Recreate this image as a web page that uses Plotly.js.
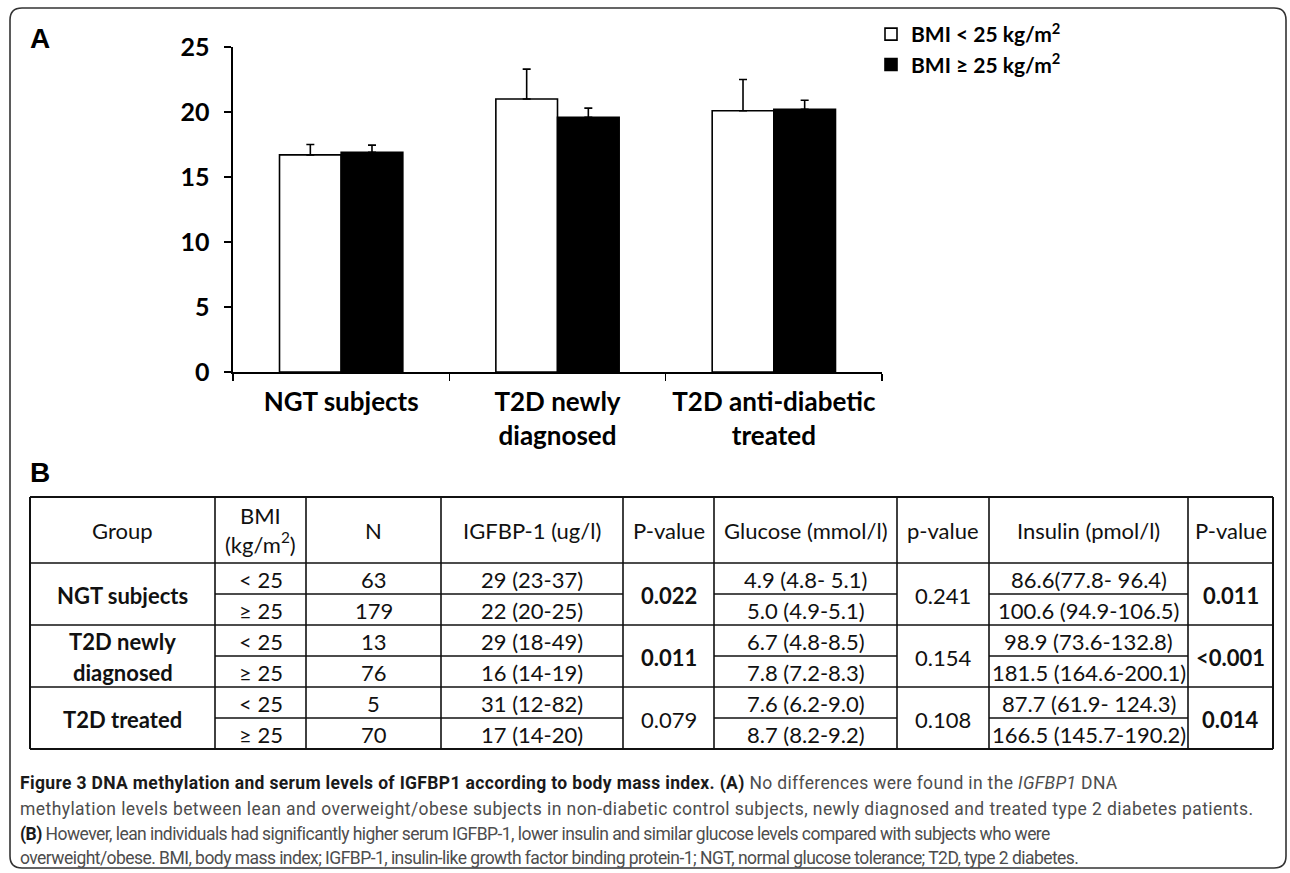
<!DOCTYPE html>
<html>
<head>
<meta charset="utf-8">
<script src="https://cdn.plot.ly/plotly-3.0.1.min.js"></script>
<style>html,body{margin:0;padding:0;background:#fff;}#chart{width:1290px;height:873px;}</style>
</head>
<body>
<div id="chart"></div>
<script>
// ---------- Panel A data ----------
const categories = ['NGT subjects', 'T2D newly<br>diagnosed', 'T2D anti-diabetic<br>treated'];
const leanMeans  = [16.7, 21.0, 20.1];
const leanErr    = [0.8, 2.3, 2.4];
const obeseMeans = [16.9, 19.6, 20.2];
const obeseErr   = [0.55, 0.7, 0.7];
const yTicks     = [0, 5, 10, 15, 20, 25];
const seriesNames = ['BMI &lt; 25 kg/m<sup>2</sup>', 'BMI ≥ 25 kg/m<sup>2</sup>'];

// ---------- Panel B table data ----------
const headers = ['Group', 'BMI<br>(kg/m<sup>2</sup>)', 'N', 'IGFBP-1 (ug/l)', 'P-value', 'Glucose (mmol/l)', 'p-value', 'Insulin (pmol/l)', 'P-value'];
const groups = [['NGT subjects'], ['T2D newly', 'diagnosed'], ['T2D treated']];
const bmiLabels = ['&lt; 25', '≥ 25'];
const nLean  = [63, 13, 5];
const nObese = [179, 76, 70];
const igfbpLean  = ['29 (23-37)', '29 (18-49)', '31 (12-82)'];
const igfbpObese = ['22 (20-25)', '16 (14-19)', '17 (14-20)'];
const igfbpP     = ['0.022', '0.011', '0.079'];
const igfbpPSig  = [true, true, false];
const glucoseLean  = ['4.9 (4.8- 5.1)', '6.7 (4.8-8.5)', '7.6 (6.2-9.0)'];
const glucoseObese = ['5.0 (4.9-5.1)', '7.8 (7.2-8.3)', '8.7 (8.2-9.2)'];
const glucoseP     = ['0.241', '0.154', '0.108'];
const glucosePSig  = [false, false, false];
const insulinLean  = ['86.6(77.8- 96.4)', '98.9 (73.6-132.8)', '87.7 (61.9- 124.3)'];
const insulinObese = ['100.6 (94.9-106.5)', '181.5 (164.6-200.1)', '166.5 (145.7-190.2)'];
const insulinP     = ['0.011', '&lt;0.001', '0.014'];
const insulinPSig  = [true, true, true];

const captionLines = [
  '<b>Figure 3 DNA methylation and serum levels of IGFBP1 according to body mass index. (A)</b> No differences were found in the <i>IGFBP1</i> DNA',
  'methylation levels between lean and overweight/obese subjects in non-diabetic control subjects, newly diagnosed and treated type 2 diabetes patients.',
  '<b>(B)</b> However, lean individuals had significantly higher serum IGFBP-1, lower insulin and similar glucose levels compared with subjects who were',
  'overweight/obese. BMI, body mass index; IGFBP-1, insulin-like growth factor binding protein-1; NGT, normal glucose tolerance; T2D, type 2 diabetes.'
];
const captionTracking = [0.34, 0.43, -0.55, -0.55];

// ---------- layout geometry (pixels) ----------
const W = 1290, H = 873;
const PL = 233, PR = 882, PT = 47, PB = 372;
const X = px => (px - PL) / (PR - PL);
const Y = py => (PB - py) / (PB - PT);

const FONT = 'Lato, "Open Sans", sans-serif';
const CAPFONT = 'Roboto, "Liberation Sans", sans-serif';

const colEdges = [30, 215, 306, 441, 623, 714, 897, 989, 1188, 1273];
const tableTop = 497, headerBottom = 563, subRow = 31;

const shapes = [];
const annotations = [];

function line(x0, y0, x1, y1, w) {
  shapes.push({type: 'line', xref: 'paper', yref: 'paper', x0: X(x0), y0: Y(y0), x1: X(x1), y1: Y(y1),
    line: {color: '#111', width: w}});
}
function text(px, py, t, opt) {
  opt = opt || {};
  annotations.push({xref: 'paper', yref: 'paper', x: X(px), y: Y(py), text: t, showarrow: false,
    xanchor: opt.xa || 'center', yanchor: opt.ya || 'middle', align: opt.align || 'center',
    font: {family: opt.family || FONT, size: opt.size || 22, color: opt.color || '#111', weight: opt.weight || 'normal'}});
}

// outer rounded frame
(function () {
  const x0 = 10, y0 = 8, x1 = 1286, y1 = 868, r = 12;
  const p = (a, b) => X(a) + ',' + Y(b);
  const path = 'M' + p(x0 + r, y0) + ' L' + p(x1 - r, y0) + ' Q' + p(x1, y0) + ' ' + p(x1, y0 + r) +
    ' L' + p(x1, y1 - r) + ' Q' + p(x1, y1) + ' ' + p(x1 - r, y1) +
    ' L' + p(x0 + r, y1) + ' Q' + p(x0, y1) + ' ' + p(x0, y1 - r) +
    ' L' + p(x0, y0 + r) + ' Q' + p(x0, y0) + ' ' + p(x0 + r, y0) + ' Z';
  shapes.push({type: 'path', xref: 'paper', yref: 'paper', path: path, line: {color: '#333', width: 1.6}});
})();

// panel letters
text(40, 38, '<b>A</b>', {family: '"Liberation Sans", Arial, sans-serif', size: 28, color: '#000'});
text(40, 472, '<b>B</b>', {family: '"Liberation Sans", Arial, sans-serif', size: 28, color: '#000'});

// ---------- table ----------
const tableBottom = headerBottom + subRow * 6;
const L = colEdges[0], R = colEdges[colEdges.length - 1];
line(L, tableTop, R, tableTop, 2);
line(L, headerBottom, R, headerBottom, 1.6);
for (let g = 1; g <= 3; g++) line(L, headerBottom + subRow * 2 * g, R, headerBottom + subRow * 2 * g, g === 3 ? 2 : 1.6);
colEdges.forEach((cx, i) => line(cx, tableTop, cx, tableBottom, (i === 0 || i === colEdges.length - 1) ? 2 : 1.6));
const splitCols = [1, 2, 3, 5, 7];
for (let g = 0; g < 3; g++) {
  const yy = headerBottom + subRow * (2 * g + 1);
  splitCols.forEach(c => line(colEdges[c], yy, colEdges[c + 1], yy, 1.6));
}
const colMid = c => (colEdges[c] + colEdges[c + 1]) / 2;
headers.forEach((h, c) => text(colMid(c), (tableTop + headerBottom) / 2, h));
for (let g = 0; g < 3; g++) {
  const yA = headerBottom + subRow * (2 * g) + subRow / 2 + 1;
  const yB = yA + subRow;
  const yM = headerBottom + subRow * (2 * g + 1) + 1;
  if (groups[g].length === 1) {
    text(colMid(0), yM, '<b>' + groups[g][0] + '</b>');
  } else {
    text(colMid(0), yA, '<b>' + groups[g][0] + '</b>');
    text(colMid(0), yB, '<b>' + groups[g][1] + '</b>');
  }
  text(colMid(1), yA, bmiLabels[0]); text(colMid(1), yB, bmiLabels[1]);
  text(colMid(2), yA, String(nLean[g])); text(colMid(2), yB, String(nObese[g]));
  text(colMid(3), yA, igfbpLean[g]); text(colMid(3), yB, igfbpObese[g]);
  text(colMid(4), yM, igfbpPSig[g] ? '<b>' + igfbpP[g] + '</b>' : igfbpP[g]);
  text(colMid(5), yA, glucoseLean[g]); text(colMid(5), yB, glucoseObese[g]);
  text(colMid(6), yM, glucosePSig[g] ? '<b>' + glucoseP[g] + '</b>' : glucoseP[g]);
  text(colMid(7), yA, insulinLean[g]); text(colMid(7), yB, insulinObese[g]);
  text(colMid(8), yM, insulinPSig[g] ? '<b>' + insulinP[g] + '</b>' : insulinP[g]);
}

// ---------- caption ----------
const capY = [784, 809, 834, 858];
captionLines.forEach((t, i) => {
  const styled = '<span style="letter-spacing:' + captionTracking[i] + 'px">' +
    t.replace(/<b>/g, '<span style="color:#1a1a1a"><b>').replace(/<\/b>/g, '</b></span>') + '</span>';
  text(18, capY[i], styled, {xa: 'left', align: 'left', family: CAPFONT, size: 17.5, color: '#4d4d4d'});
});

// ---------- bars ----------
const traces = [
  {type: 'bar', name: seriesNames[0], x: categories, y: leanMeans,
   marker: {color: '#ffffff', line: {color: '#000', width: 1.6}},
   error_y: {type: 'data', symmetric: false, array: leanErr, arrayminus: leanErr.map(() => 0), color: '#000', thickness: 1.6, width: 4}},
  {type: 'bar', name: seriesNames[1], x: categories, y: obeseMeans,
   marker: {color: '#000000', line: {color: '#000', width: 1.6}},
   error_y: {type: 'data', symmetric: false, array: obeseErr, arrayminus: obeseErr.map(() => 0), color: '#000', thickness: 1.6, width: 4}}
];

const layout = {
  width: W, height: H,
  margin: {l: PL, r: W - PR, t: PT, b: H - PB, pad: 0},
  paper_bgcolor: '#fff', plot_bgcolor: '#fff',
  barmode: 'group', bargap: 0.43, bargroupgap: 0,
  showlegend: true,
  legend: {x: X(871), y: Y(14), xanchor: 'left', yanchor: 'top', orientation: 'v',
    font: {family: FONT, size: 21, color: '#000', weight: 'bold'}, bgcolor: 'rgba(0,0,0,0)', itemwidth: 30, tracegroupgap: 0},
  xaxis: {type: 'category', showline: true, linecolor: '#000', linewidth: 1.6, ticks: 'outside', tickson: 'boundaries',
    ticklen: 7, tickwidth: 1.6, tickcolor: '#000', showgrid: false, zeroline: false, fixedrange: true,
    ticklabelstandoff: 6,
    tickfont: {family: FONT, size: 26, color: '#000', weight: 'bold'}},
  yaxis: {range: [0, 25], tickvals: yTicks, showline: true, linecolor: '#000', linewidth: 1.6, ticks: 'outside',
    ticklen: 7, tickwidth: 1.6, tickcolor: '#000', showgrid: false, zeroline: false, fixedrange: true,
    ticklabelstandoff: 10,
    tickfont: {family: FONT, size: 25, color: '#000', weight: 'bold'}},
  shapes: shapes,
  annotations: annotations
};

Plotly.newPlot('chart', traces, layout, {displayModeBar: false, staticPlot: true});
</script>
</body>
</html>
